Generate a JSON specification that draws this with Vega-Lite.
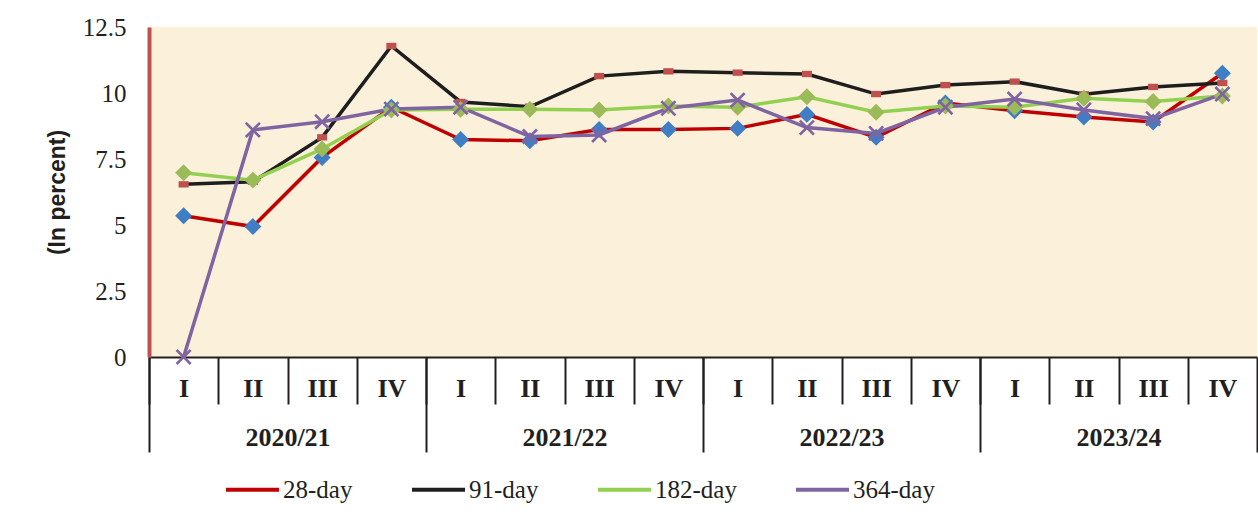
{
  "$schema": "https://vega.github.io/schema/vega-lite/v6.json",
  "width": 1108,
  "height": 330,
  "autosize": {"type": "none"},
  "padding": {"left": 149, "top": 27, "right": 1, "bottom": 169},
  "background": "white",
  "config": {"view": {"fill": "#FBF0DA", "stroke": null}, "axis": {"grid": false}},
  "data": {"values": [
    {"period": "2020/21-I", "series": "28-day", "value": 5.35},
    {"period": "2020/21-II", "series": "28-day", "value": 4.94},
    {"period": "2020/21-III", "series": "28-day", "value": 7.56},
    {"period": "2020/21-IV", "series": "28-day", "value": 9.46},
    {"period": "2021/22-I", "series": "28-day", "value": 8.24},
    {"period": "2021/22-II", "series": "28-day", "value": 8.19},
    {"period": "2021/22-III", "series": "28-day", "value": 8.62},
    {"period": "2021/22-IV", "series": "28-day", "value": 8.62},
    {"period": "2022/23-I", "series": "28-day", "value": 8.66},
    {"period": "2022/23-II", "series": "28-day", "value": 9.19},
    {"period": "2022/23-III", "series": "28-day", "value": 8.32},
    {"period": "2022/23-IV", "series": "28-day", "value": 9.62},
    {"period": "2023/24-I", "series": "28-day", "value": 9.33},
    {"period": "2023/24-II", "series": "28-day", "value": 9.09},
    {"period": "2023/24-III", "series": "28-day", "value": 8.9},
    {"period": "2023/24-IV", "series": "28-day", "value": 10.75},
    {"period": "2020/21-I", "series": "91-day", "value": 6.54},
    {"period": "2020/21-II", "series": "91-day", "value": 6.64},
    {"period": "2020/21-III", "series": "91-day", "value": 8.32},
    {"period": "2020/21-IV", "series": "91-day", "value": 11.78},
    {"period": "2021/22-I", "series": "91-day", "value": 9.66},
    {"period": "2021/22-II", "series": "91-day", "value": 9.48},
    {"period": "2021/22-III", "series": "91-day", "value": 10.64},
    {"period": "2021/22-IV", "series": "91-day", "value": 10.82},
    {"period": "2022/23-I", "series": "91-day", "value": 10.77},
    {"period": "2022/23-II", "series": "91-day", "value": 10.72},
    {"period": "2022/23-III", "series": "91-day", "value": 9.96},
    {"period": "2022/23-IV", "series": "91-day", "value": 10.3},
    {"period": "2023/24-I", "series": "91-day", "value": 10.43},
    {"period": "2023/24-II", "series": "91-day", "value": 9.95},
    {"period": "2023/24-III", "series": "91-day", "value": 10.23},
    {"period": "2023/24-IV", "series": "91-day", "value": 10.38},
    {"period": "2020/21-I", "series": "182-day", "value": 6.98},
    {"period": "2020/21-II", "series": "182-day", "value": 6.7},
    {"period": "2020/21-III", "series": "182-day", "value": 7.88},
    {"period": "2020/21-IV", "series": "182-day", "value": 9.36},
    {"period": "2021/22-I", "series": "182-day", "value": 9.38},
    {"period": "2021/22-II", "series": "182-day", "value": 9.38},
    {"period": "2021/22-III", "series": "182-day", "value": 9.36},
    {"period": "2021/22-IV", "series": "182-day", "value": 9.51},
    {"period": "2022/23-I", "series": "182-day", "value": 9.46},
    {"period": "2022/23-II", "series": "182-day", "value": 9.86},
    {"period": "2022/23-III", "series": "182-day", "value": 9.27},
    {"period": "2022/23-IV", "series": "182-day", "value": 9.51},
    {"period": "2023/24-I", "series": "182-day", "value": 9.46},
    {"period": "2023/24-II", "series": "182-day", "value": 9.8},
    {"period": "2023/24-III", "series": "182-day", "value": 9.68},
    {"period": "2023/24-IV", "series": "182-day", "value": 9.89},
    {"period": "2020/21-I", "series": "364-day", "value": 0},
    {"period": "2020/21-II", "series": "364-day", "value": 8.6},
    {"period": "2020/21-III", "series": "364-day", "value": 8.91},
    {"period": "2020/21-IV", "series": "364-day", "value": 9.39},
    {"period": "2021/22-I", "series": "364-day", "value": 9.46},
    {"period": "2021/22-II", "series": "364-day", "value": 8.35},
    {"period": "2021/22-III", "series": "364-day", "value": 8.41},
    {"period": "2021/22-IV", "series": "364-day", "value": 9.42},
    {"period": "2022/23-I", "series": "364-day", "value": 9.73},
    {"period": "2022/23-II", "series": "364-day", "value": 8.69},
    {"period": "2022/23-III", "series": "364-day", "value": 8.47},
    {"period": "2022/23-IV", "series": "364-day", "value": 9.46},
    {"period": "2023/24-I", "series": "364-day", "value": 9.77},
    {"period": "2023/24-II", "series": "364-day", "value": 9.36},
    {"period": "2023/24-III", "series": "364-day", "value": 9.03},
    {"period": "2023/24-IV", "series": "364-day", "value": 9.96}
  ]},
  "encoding": {
    "x": {"field": "period", "type": "nominal", "sort": null, "scale": {"type": "band", "paddingInner": 0, "paddingOuter": 0}},
    "y": {"field": "value", "type": "quantitative", "scale": {"domain": [0, 12.5], "nice": false, "zero": true}}
  },
  "layer": [
    {
      "mark": {"type": "line", "strokeWidth": 3.5},
      "encoding": {
        "x": {
          "field": "period", "type": "nominal", "sort": null,
          "axis": {
            "title": null, "orient": "bottom",
            "labelExpr": "slice(datum.value, 8)",
            "tickOffset": -34.625, "labelOffset": 34.625,
            "tickSize": 47, "tickColor": "#231F20", "tickWidth": 2,
            "domainColor": "#231F20", "domainWidth": 2,
            "labelFont": "Liberation Serif", "labelFontSize": 26, "labelFontWeight": "bold",
            "labelColor": "#231F20", "labelAngle": 0, "labelBaseline": "middle",
            "labelPadding": -16, "labelOverlap": false
          }
        },
        "y": {
          "field": "value", "type": "quantitative",
          "axis": {
            "title": "(In percent)", "values": [0, 2.5, 5, 7.5, 10, 12.5], "format": ".1~f",
            "ticks": false, "domainColor": "#C0504D", "domainWidth": 4,
            "labelFont": "Liberation Serif", "labelFontSize": 25, "labelColor": "#231F20",
            "labelPadding": 23,
            "titleFont": "Liberation Sans", "titleFontSize": 23, "titleFontWeight": "bold",
            "titleColor": "#231F20", "titleAngle": -90, "titleX": -92, "titleY": 165,
            "titleAlign": "center", "titleBaseline": "middle"
          }
        },
        "stroke": {
          "field": "series", "type": "nominal",
          "scale": {"domain": ["28-day", "91-day", "182-day", "364-day"], "range": ["#C00000", "#1E1E1E", "#92D050", "#8064A2"]},
          "legend": {
            "title": null, "orient": "none", "legendX": 75, "legendY": 434,
            "direction": "horizontal", "symbolType": "stroke", "symbolSize": 2809,
            "symbolStrokeWidth": 4, "labelFont": "Liberation Serif", "labelFontSize": 25,
            "labelColor": "#231F20", "labelOffset": 2, "columnPadding": 51, "padding": 0
          }
        }
      }
    },
    {
      "mark": {"type": "point", "filled": true, "opacity": 1, "size": 2809, "strokeWidth": 0},
      "encoding": {
        "x": {"field": "period", "type": "nominal", "sort": null, "axis": null},
        "color": {
          "field": "series", "type": "nominal", "sort": ["28-day", "91-day", "182-day", "364-day"],
          "scale": {"range": ["#3F7DC4", "#C0504D", "#9BBB59", "#8064A2"]},
          "legend": null
        },
        "shape": {
          "field": "series", "type": "nominal", "sort": ["28-day", "91-day", "182-day", "364-day"],
          "scale": {"range": [
            "M0,-0.32L0.32,0L0,0.32L-0.32,0Z",
            "M-0.19,-0.12H0.19V0.12H-0.19Z",
            "M0,-0.32L0.32,0L0,0.32L-0.32,0Z",
            "M-0.23,-0.3L0,-0.07L0.23,-0.3L0.3,-0.23L0.07,0L0.3,0.23L0.23,0.3L0,0.07L-0.23,0.3L-0.3,0.23L-0.07,0L-0.3,-0.23Z"
          ]},
          "legend": null
        }
      }
    },
    {
      "mark": {"type": "point", "opacity": 0},
      "encoding": {
        "x": {
          "field": "period", "type": "nominal", "sort": null,
          "axis": {
            "title": null, "orient": "bottom", "domain": false,
            "values": ["2020/21-IV", "2021/22-IV", "2022/23-IV", "2023/24-IV"],
            "labelExpr": "slice(datum.value, 0, 7)",
            "tickOffset": 34.625, "labelOffset": -138.5,
            "tickSize": 95, "tickColor": "#231F20", "tickWidth": 2,
            "labelFont": "Liberation Serif", "labelFontSize": 26, "labelFontWeight": "bold",
            "labelColor": "#231F20", "labelAngle": 0, "labelBaseline": "middle",
            "labelPadding": -15, "labelOverlap": false
          }
        }
      }
    },
    {
      "mark": {"type": "point", "opacity": 0},
      "encoding": {
        "x": {
          "field": "period", "type": "nominal", "sort": null,
          "axis": {
            "title": null, "orient": "bottom", "domain": false, "labels": false,
            "values": ["2020/21-I"], "tickOffset": -34.625,
            "tickSize": 95, "tickColor": "#231F20", "tickWidth": 2
          }
        }
      }
    }
  ],
  "resolve": {"axis": {"x": "independent"}}
}
